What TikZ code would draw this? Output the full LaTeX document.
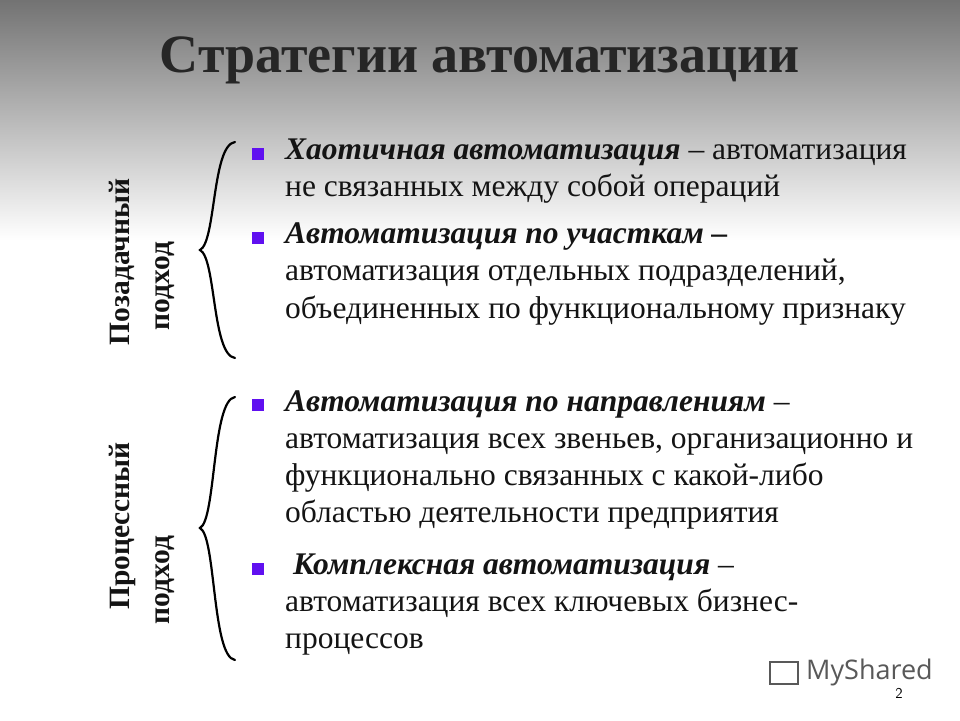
\documentclass[tikz,border=0pt]{standalone}
\usepackage{fontspec}
\setmainfont{Liberation Serif}
\newfontfamily\logofont{Open Sans}
\definecolor{bul}{HTML}{6010F0}
\begin{document}
\begin{tikzpicture}[x=1pt,y=-1pt,
  para/.style={anchor=north west,inner sep=0pt,align=left,font=\fontsize{31.5}{37}\selectfont,text=black!92},
  bull/.style={fill=bul,minimum size=12pt,inner sep=0pt},
  side/.style={rotate=90,font=\bfseries\fontsize{29.5}{30}\selectfont,inner sep=0pt,text=black!92},
  brace/.style={line width=2.2pt,line cap=round}]
\useasboundingbox (0,0) rectangle (960,720);
\fill[white] (0,0) rectangle (960,720);
\shade[top color=black!55,bottom color=white] (0,0) rectangle (960,240);
\node (title) [font=\bfseries\fontsize{54}{56}\selectfont,text=black!85] at (480,60) {Стратегии автоматизации};
% braces
\coordinate (b1t) at (235,142); \coordinate (b1m) at (200,250); \coordinate (b1b) at (235,358);
\draw[brace] (b1t) .. controls (212,145) and (216,242) .. (b1m) .. controls (216,258) and (212,355) .. (b1b);
\coordinate (b2t) at (235,397); \coordinate (b2m) at (200,528); \coordinate (b2b) at (235,660);
\draw[brace] (b2t) .. controls (212,400) and (216,520) .. (b2m) .. controls (216,536) and (212,657) .. (b2b);
% side labels
\node (s1) [side] at (122,262) {Позадачный};
\node (s2) [side] at (165,286) {подход};
\node (s3) [side] at (122,526) {Процессный};
\node (s4) [side] at (165,580) {подход};
% bullets
\node (q1) [bull] at (258,154) {};
\node (q2) [bull] at (258,238) {};
\node (q3) [bull] at (258,405) {};
\node (q4) [bull] at (258,569) {};
% paragraphs
\node (p1) [para] at (285,139) {\textbf{\textit{Хаотичная автоматизация }}– автоматизация\\не связанных между собой операций};
\node (p2) [para] at (285,223) {\textbf{\textit{Автоматизация по участкам –}}\\автоматизация отдельных подразделений,\\объединенных по функциональному признаку};
\node (p3) [para] at (285,390) {\textbf{\textit{Автоматизация по направлениям }}–\\автоматизация всех звеньев, организационно и\\функционально связанных с какой-либо\\областью деятельности предприятия};
\node (p4) [para] at (285,554) {\textbf{\textit{\ Комплексная автоматизация }}–\\автоматизация всех ключевых бизнес-\\процессов};
% logo and page number
\node (logo) [font=\logofont\fontsize{27}{30}\selectfont,text=black!65,anchor=west,inner sep=0pt] at (806,672) {MyShared};
\draw[black!65,line width=1.5pt] (770,662) rectangle (798,684);
\node (pg) [font=\sffamily\fontsize{15}{16}\selectfont,anchor=center] at (899,693) {2};
\end{tikzpicture}
\end{document}
